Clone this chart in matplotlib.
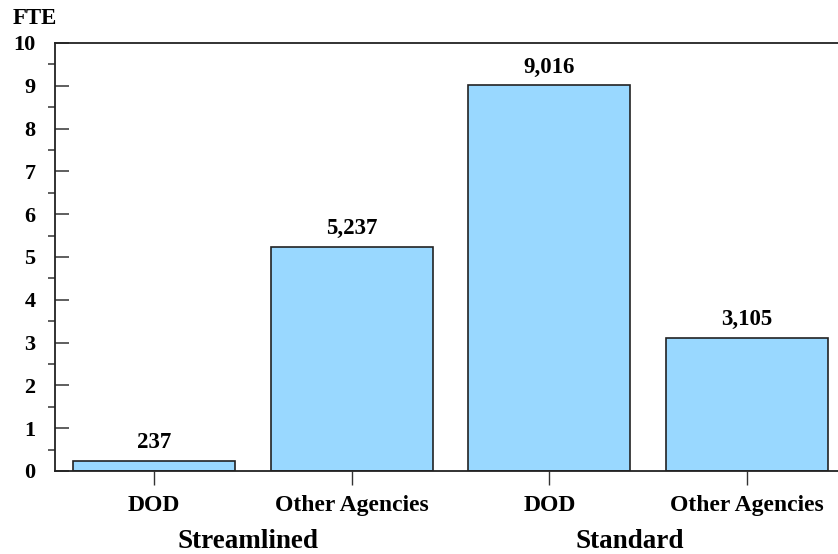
import matplotlib.pyplot as plt
from matplotlib.ticker import MultipleLocator

# Dados (FTE)
categorias = ['DOD', 'Other Agencies', 'DOD', 'Other Agencies']
valores = [237, 5237, 9016, 3105]
grupos = ['Streamlined', 'Standard']
pos_grupos = [0.475, 2.405]

plt.rcParams['font.family'] = ['Liberation Serif', 'DejaVu Serif']
plt.rcParams['font.weight'] = 'bold'

fig = plt.figure(figsize=(8.38, 5.54), dpi=100)
ax = fig.add_axes([55 / 838, 83 / 554, 1 - 55 / 838, 428 / 554])

x = list(range(len(valores)))
alturas = [v / 1000 for v in valores]
barras = ax.bar(x, alturas, width=0.82, color='#99d8ff', edgecolor='#222222', linewidth=1.2)

# Rótulos em cima das barras
for xi, h, v in zip(x, alturas, valores):
    ax.annotate(f'{v:,}', (xi, h), xytext=(0, 5.5), textcoords='offset points',
                ha='center', va='bottom', fontsize=16.5, fontweight='bold')

ax.set_xlim(-0.5, 3.46)
ax.set_ylim(0, 10)
ax.set_xticks(x)
ax.set_xticklabels(categorias, fontsize=17, fontweight='bold')
ax.yaxis.set_major_locator(MultipleLocator(1))
ax.yaxis.set_minor_locator(MultipleLocator(0.5))
ax.tick_params(axis='y', which='major', direction='in', length=10, width=1.1,
               pad=14, labelsize=16, color='#333333')
ax.tick_params(axis='y', which='minor', direction='out', length=5, width=1.1, color='#333333')
ax.tick_params(axis='x', direction='out', length=10, width=1, pad=7, color='#333333')
for lbl in ax.get_yticklabels():
    lbl.set_fontweight('bold')

ax.spines['right'].set_visible(False)
for s in ['left', 'top', 'bottom']:
    ax.spines[s].set_linewidth(1.3)
    ax.spines[s].set_color('#222222')

# Nomes dos grupos
for g, p in zip(grupos, pos_grupos):
    ax.text(p, -1.65, g, ha='center', va='center', fontsize=19.5, fontweight='bold',
            transform=ax.transData)

fig.text(13 / 838, 1 - 8 / 554, 'FTE', ha='left', va='top', fontsize=16.5, fontweight='bold')

fig.savefig('out.png', dpi=100)
